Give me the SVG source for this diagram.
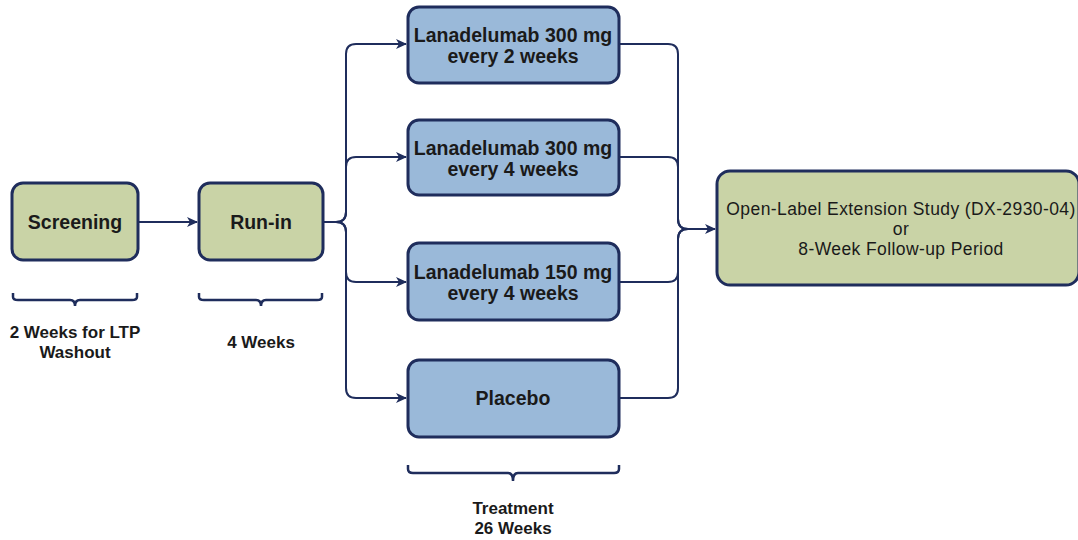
<svg xmlns="http://www.w3.org/2000/svg" width="1078" height="540" viewBox="0 0 1078 540">
<style>
.g{fill:#c9d3a6;stroke:#1f2d5c;stroke-width:3}
.b{fill:#9ab9d9;stroke:#1f2d5c;stroke-width:3}
.c{fill:none;stroke:#1f2d5c;stroke-width:2}
.br{fill:none;stroke:#1f2d5c;stroke-width:2.5}
.t{font-family:"Liberation Sans",Arial,sans-serif;font-size:19.5px;font-weight:bold;fill:#1a1a1a;text-anchor:middle}
.s{font-family:"Liberation Sans",Arial,sans-serif;font-size:17px;font-weight:bold;fill:#1a1a1a;text-anchor:middle}
.f{font-family:"Liberation Sans",Arial,sans-serif;font-size:17.5px;fill:#1a1a1a;text-anchor:middle;letter-spacing:0.4px}
</style>
<defs>
<marker id="a" markerWidth="12" markerHeight="12" refX="10" refY="6" orient="auto" markerUnits="userSpaceOnUse">
<path d="M0,1 L11,6 L0,11 L3,6 Z" fill="#1f2d5c"/>
</marker>
</defs>
<g id="connectors">
<path class="c" d="M138,222 H197" marker-end="url(#a)"/>
<path class="c" d="M323,222 H336 Q346,222 346,212 V54 Q346,44 356,44 H406" marker-end="url(#a)"/>
<path class="c" d="M336,222 Q346,222 346,212 V167 Q346,157 356,157 H406" marker-end="url(#a)"/>
<path class="c" d="M336,222 Q346,222 346,232 V272 Q346,282 356,282 H406" marker-end="url(#a)"/>
<path class="c" d="M336,222 Q346,222 346,232 V388 Q346,398 356,398 H406" marker-end="url(#a)"/>
<path class="c" d="M619,44 H668 Q678,44 678,54 V219 Q678,229 688,229 H715" marker-end="url(#a)"/>
<path class="c" d="M619,157 H668 Q678,157 678,167 V219 Q678,229 688,229"/>
<path class="c" d="M619,282 H668 Q678,282 678,272 V239 Q678,229 688,229"/>
<path class="c" d="M619,398 H668 Q678,398 678,388 V239 Q678,229 688,229"/>
</g>
<g id="screening">
<rect class="g" x="12" y="183" width="126" height="77" rx="11"/>
<text class="t" x="75" y="229">Screening</text>
</g>
<g id="runin">
<rect class="g" x="199" y="183" width="124" height="77" rx="11"/>
<text class="t" x="261" y="229">Run-in</text>
</g>
<g id="arm1">
<rect class="b" x="408" y="7" width="211" height="76" rx="11"/>
<text class="t" x="513" y="42">Lanadelumab 300 mg</text>
<text class="t" x="513" y="63">every 2 weeks</text>
</g>
<g id="arm2">
<rect class="b" x="408" y="120" width="211" height="75" rx="11"/>
<text class="t" x="513" y="155">Lanadelumab 300 mg</text>
<text class="t" x="513" y="176">every 4 weeks</text>
</g>
<g id="arm3">
<rect class="b" x="408" y="243" width="211" height="77" rx="11"/>
<text class="t" x="513" y="279">Lanadelumab 150 mg</text>
<text class="t" x="513" y="300">every 4 weeks</text>
</g>
<g id="placebo">
<rect class="b" x="408" y="360" width="211" height="77" rx="11"/>
<text class="t" x="513" y="405">Placebo</text>
</g>
<g id="final">
<rect class="g" x="717" y="171" width="362" height="114" rx="13"/>
<text class="f" x="901" y="215">Open-Label Extension Study (DX-2930-04)</text>
<text class="f" x="901" y="235">or</text>
<text class="f" x="901" y="255">8-Week Follow-up Period</text>
</g>
<g id="brace-screening">
<path class="br" d="M13,293 V297 Q13,300 18,300 H70 Q75,300 75,306 Q75,300 80,300 H132 Q137,300 137,297 V293"/>
<text class="s" x="75" y="338">2 Weeks for LTP</text>
<text class="s" x="75" y="358">Washout</text>
</g>
<g id="brace-runin">
<path class="br" d="M199,293 V297 Q199,300 204,300 H256 Q261,300 261,306 Q261,300 266,300 H317 Q322,300 322,297 V293"/>
<text class="s" x="261" y="348">4 Weeks</text>
</g>
<g id="brace-treatment">
<path class="br" d="M408,465 V469 Q408,473 413,473 H508 Q513,473 513,481 Q513,473 518,473 H614 Q619,473 619,469 V465"/>
<text class="s" x="513" y="514">Treatment</text>
<text class="s" x="513" y="534">26 Weeks</text>
</g>
</svg>
